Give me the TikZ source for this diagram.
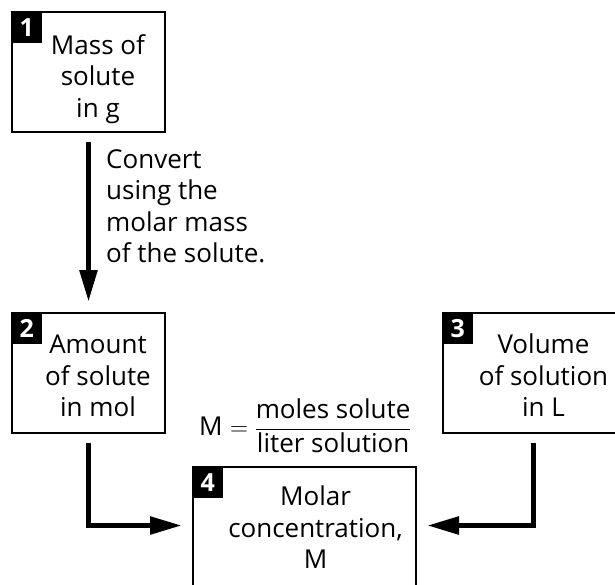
\documentclass[tikz,border=0pt]{standalone}
\usepackage{fontspec}
\setmainfont{Open Sans}
\usetikzlibrary{arrows.meta}
\begin{document}
\begin{tikzpicture}[x=1pt,y=-1pt,
  boxframe/.style={draw, line width=2.4pt, inner sep=0},
  badge/.style={fill=black, text=white, inner sep=0, minimum width=31pt, minimum height=32pt,
    font=\bfseries\fontsize{25}{25}\selectfont},
  boxtext/.style={align=center, inner sep=0, font=\fontsize{26}{31.5}\selectfont},
  lbl/.style={inner sep=0, font=\fontsize{26}{31.5}\selectfont},
  arr/.style={line width=5.5pt, -{Triangle[width=17pt,length=32pt]}, shorten <=9pt, shorten >=10pt}]
\useasboundingbox (0,0) rectangle (615,584);
\clip (0,0) rectangle (615,584);
\fill[white] (0,0) rectangle (615,584);
% boxes
\node[boxframe, minimum width=152.6pt, minimum height=119.6pt] (b1) at (88.5,72) {};
\node[boxframe, minimum width=152.6pt, minimum height=119.6pt] (b2) at (88.5,373) {};
\node[boxframe, minimum width=180.6pt, minimum height=119.6pt] (b3) at (533.5,373) {};
\node[boxframe, minimum width=222.6pt, minimum height=131.6pt] (b4) at (304.5,533) {};
% badges
\node[badge, anchor=north west] (n1) at (b1.north west) {1};
\node[badge, anchor=north west] (n2) at (b2.north west) {2};
\node[badge, anchor=north west] (n3) at (b3.north west) {3};
\node[badge, anchor=north west] (n4) at (b4.north west) {4};
% box texts
\node[boxtext] (t1) at (98,79) {Mass of\\solute\\in g};
\node[boxtext] (t2) at (98,376) {Amount\\of solute\\in mol};
\node[boxtext] (t3) at (543.5,375.5) {Volume\\of solution\\in L};
\node[boxtext] (t4) at (315.5,527.5) {Molar\\concentration,\\M};
% labels
\node[lbl, align=left, anchor=north west] (conv) at (106,149) {Convert\\using the\\molar mass\\of the solute.};
\node[lbl, anchor=base west] (eq) at (199,435) {M\hspace{7.5pt}$=$\hspace{6.5pt}$\displaystyle\frac{\mbox{moles solute}}{\mbox{liter solution}}$};
% arrows
\draw[arr] (b1) -- (b2);
\draw[arr] (b2) |- ([yshift=7.5pt]b4.west);
\draw[arr] (b3) |- ([yshift=7.5pt]b4.east);
\end{tikzpicture}
\end{document}
